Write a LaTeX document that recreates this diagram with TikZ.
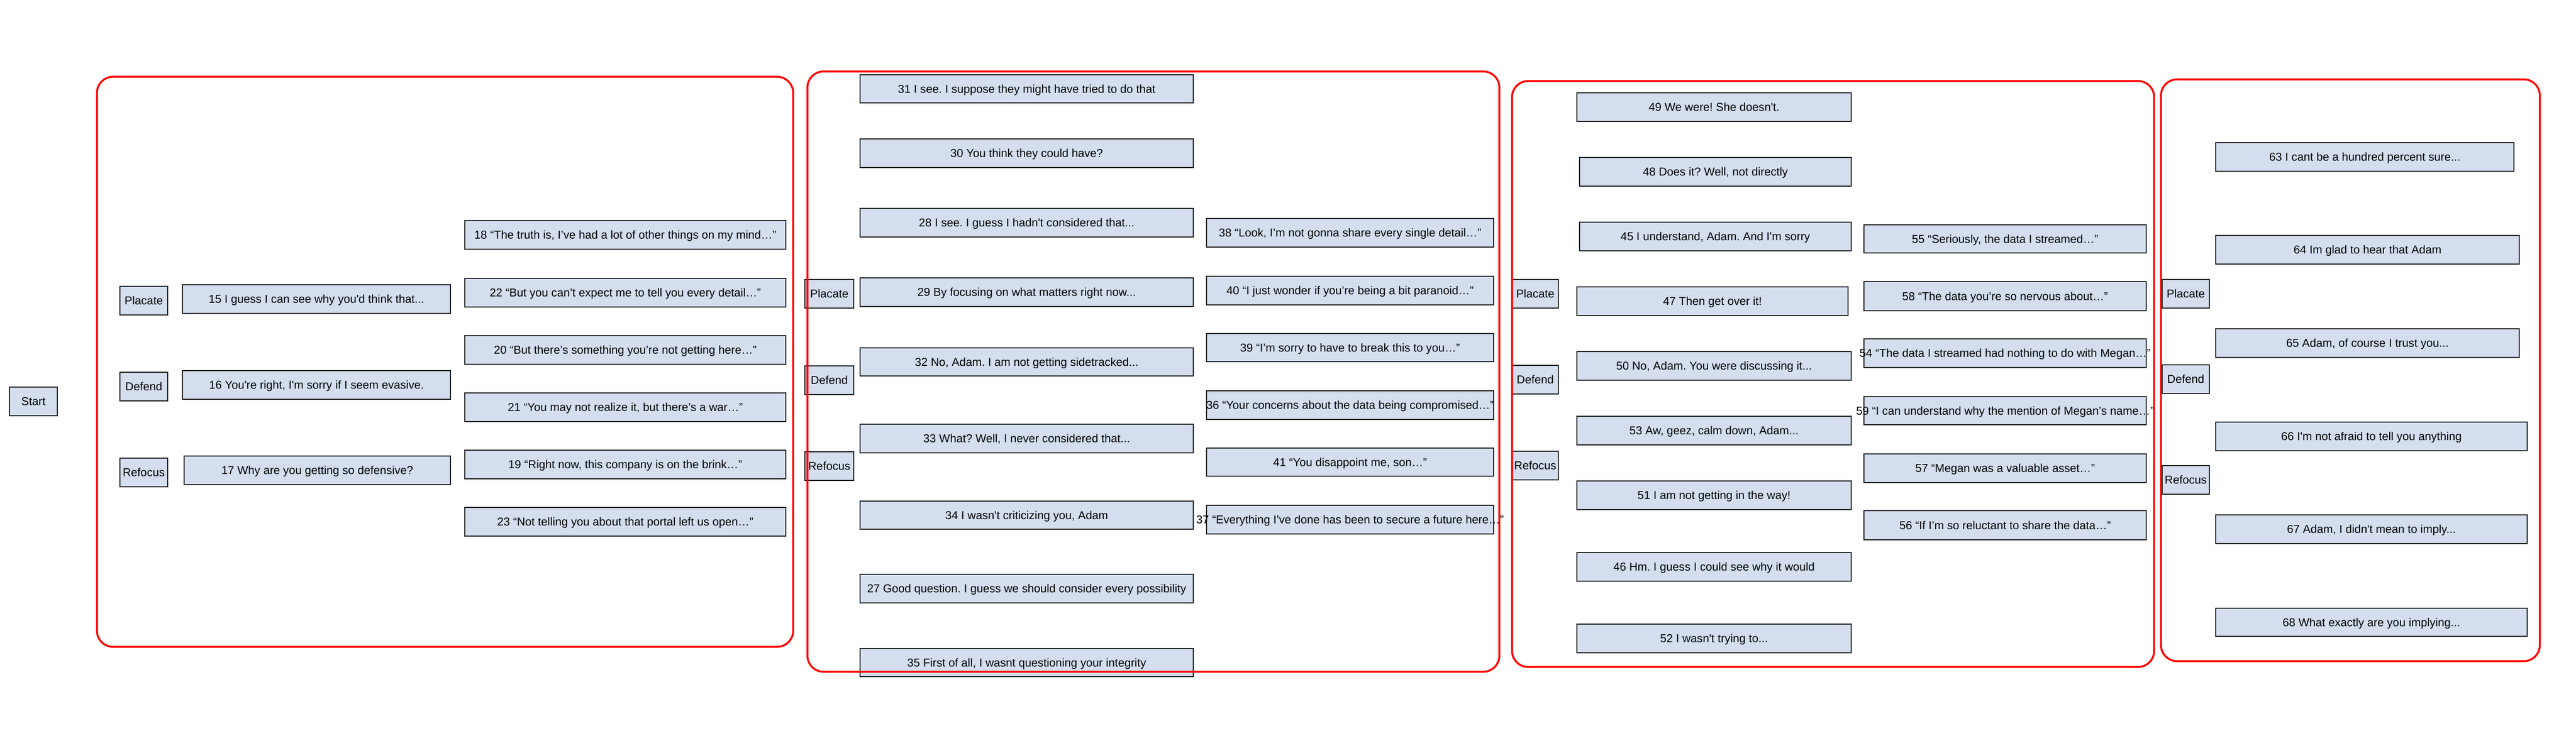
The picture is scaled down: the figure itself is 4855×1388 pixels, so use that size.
\documentclass[tikz,border=0pt]{standalone}
\usepackage{fontspec}
\newfontfamily\lib{Liberation Sans}[Ligatures=TeXOff]
\frenchspacing
\definecolor{boxfill}{HTML}{D4DEEE}
\definecolor{boxline}{HTML}{1E1E1E}
\definecolor{framered}{HTML}{FF0000}
\tikzset{
  box/.style={draw=boxline, line width=2pt, fill=boxfill, inner sep=0pt,
    anchor=north west, text height=15.5pt, text depth=0pt,
    font=\lib\fontsize{21.6pt}{26pt}\selectfont\frenchspacing},
  frame/.style={draw=framered, line width=3.6pt, rounded corners=30pt,
    anchor=north west, inner sep=0pt},
}
\newcommand{\bx}[6]{\node[box, minimum width={#4-#2}, minimum height={#5-#3}] (#1) at (#2,#3) {\makebox[0pt]{#6}};}
\newcommand{\grp}[5]{\node[frame, minimum width={#4-#2}, minimum height={#5-#3}] (#1) at (#2,#3) {};}
\begin{document}
\begin{tikzpicture}[x=1pt,y=-1pt]
\fill[white] (0,0) rectangle (4855,1388);
\useasboundingbox (0,0) rectangle (4855,1388);

\bx{start}{17}{729}{107}{783}{Start}

% group 1
\bx{p1}{225}{539}{315}{593}{Placate}
\bx{d1}{225}{701}{315}{755}{Defend}
\bx{r1}{225}{863}{315}{917}{Refocus}
\bx{n15}{343}{536}{848}{590}{15 I guess I can see why you'd think that...}
\bx{n16}{343}{698}{848}{752}{16 You're right, I'm sorry if I seem evasive.}
\bx{n17}{346}{859}{848}{913}{17 Why are you getting so defensive?}
\bx{n18}{875}{415}{1480}{469}{18 “The truth is, I’ve had a lot of other things on my mind…”}
\bx{n22}{875}{524}{1480}{578}{22 “But you can’t expect me to tell you every detail…”}
\bx{n20}{875}{632}{1480}{686}{20 “But there’s something you’re not getting here…”}
\bx{n21}{875}{740}{1480}{794}{21 “You may not realize it, but there’s a war…”}
\bx{n19}{875}{848}{1480}{902}{19 “Right now, this company is on the brink…”}
\bx{n23}{875}{956}{1480}{1010}{23 “Not telling you about that portal left us open…”}

% group 2
\bx{p2}{1516}{526}{1608}{580}{Placate}
\bx{d2}{1516}{689}{1608}{743}{Defend}
\bx{r2}{1516}{851}{1608}{905}{Refocus}
\bx{n31}{1620}{140}{2248}{193}{31 I see. I suppose they might have tried to do that}
\bx{n30}{1620}{261}{2248}{315}{30 You think they could have?}
\bx{n28}{1620}{392}{2248}{446}{28 I see. I guess I hadn't considered that...}
\bx{n29}{1620}{523}{2248}{577}{29 By focusing on what matters right now...}
\bx{n32}{1620}{655}{2248}{708}{32 No, Adam. I am not getting sidetracked...}
\bx{n33}{1620}{799}{2248}{853}{33 What? Well, I never considered that...}
\bx{n34}{1620}{944}{2248}{997}{34 I wasn't criticizing you, Adam}
\bx{n27}{1620}{1082}{2248}{1136}{27 Good question. I guess we should consider every possibility}
\bx{n35}{1620}{1222}{2248}{1275}{35 First of all, I wasnt questioning your integrity}
\bx{n38}{2273}{411}{2814}{465}{38 “Look, I’m not gonna share every single detail…”}
\bx{n40}{2273}{520}{2814}{574}{40 “I just wonder if you’re being a bit paranoid…”}
\bx{n39}{2273}{628}{2814}{681}{39 “I’m sorry to have to break this to you…”}
\bx{n36}{2273}{736}{2814}{790}{36 “Your concerns about the data being compromised…”}
\bx{n41}{2273}{844}{2814}{897}{41 “You disappoint me, son…”}
\bx{n37}{2273}{952}{2814}{1006}{37 “Everything I’ve done has been to secure a future here…”}

% group 3
\bx{p3}{2849}{526}{2936}{580}{Placate}
\bx{d3}{2849}{688}{2936}{742}{Defend}
\bx{r3}{2849}{850}{2936}{904}{Refocus}
\bx{n49}{2971}{174}{3488}{228}{49 We were! She doesn't.}
\bx{n48}{2976}{296}{3488}{350}{48 Does it? Well, not directly}
\bx{n45}{2976}{418}{3488}{472}{45 I understand, Adam. And I'm sorry}
\bx{n47}{2971}{540}{3482}{594}{47 Then get over it!}
\bx{n50}{2971}{662}{3488}{716}{50 No, Adam. You were discussing it...}
\bx{n53}{2971}{784}{3488}{838}{53 Aw, geez, calm down, Adam...}
\bx{n51}{2971}{906}{3488}{960}{51 I am not getting in the way!}
\bx{n46}{2971}{1041}{3488}{1095}{46 Hm. I guess I could see why it would}
\bx{n52}{2971}{1176}{3488}{1230}{52 I wasn't trying to...}
\bx{n55}{3512}{423}{4044}{476}{55 “Seriously, the data I streamed…”}
\bx{n58}{3512}{530}{4044}{585}{58 “The data you’re so nervous about…”}
\bx{n54}{3512}{638}{4044}{692}{54 “The data I streamed had nothing to do with Megan…”}
\bx{n59}{3512}{747}{4044}{800}{59 “I can understand why the mention of Megan’s name…”}
\bx{n57}{3512}{855}{4044}{909}{57 “Megan was a valuable asset…”}
\bx{n56}{3512}{962}{4044}{1017}{56 “If I’m so reluctant to share the data…”}

% group 4
\bx{p4}{4074}{526}{4163}{580}{Placate}
\bx{d4}{4074}{687}{4163}{741}{Defend}
\bx{r4}{4074}{877}{4163}{931}{Refocus}
\bx{n63}{4175}{268}{4737}{322}{63 I cant be a hundred percent sure...}
\bx{n64}{4175}{443}{4747}{497}{64 Im glad to hear that Adam}
\bx{n65}{4175}{619}{4747}{673}{65 Adam, of course I trust you...}
\bx{n66}{4175}{795}{4762}{849}{66 I'm not afraid to tell you anything}
\bx{n67}{4175}{970}{4762}{1024}{67 Adam, I didn't mean to imply...}
\bx{n68}{4175}{1146}{4762}{1199}{68 What exactly are you implying...}

% red group frames (drawn on top)
\grp{g1}{181}{143}{1493}{1218}
\grp{g2}{1520}{133}{2824}{1265}
\grp{g3}{2848}{151}{4058}{1256}
\grp{g4}{4071}{148}{4785}{1245}
\end{tikzpicture}
\end{document}
